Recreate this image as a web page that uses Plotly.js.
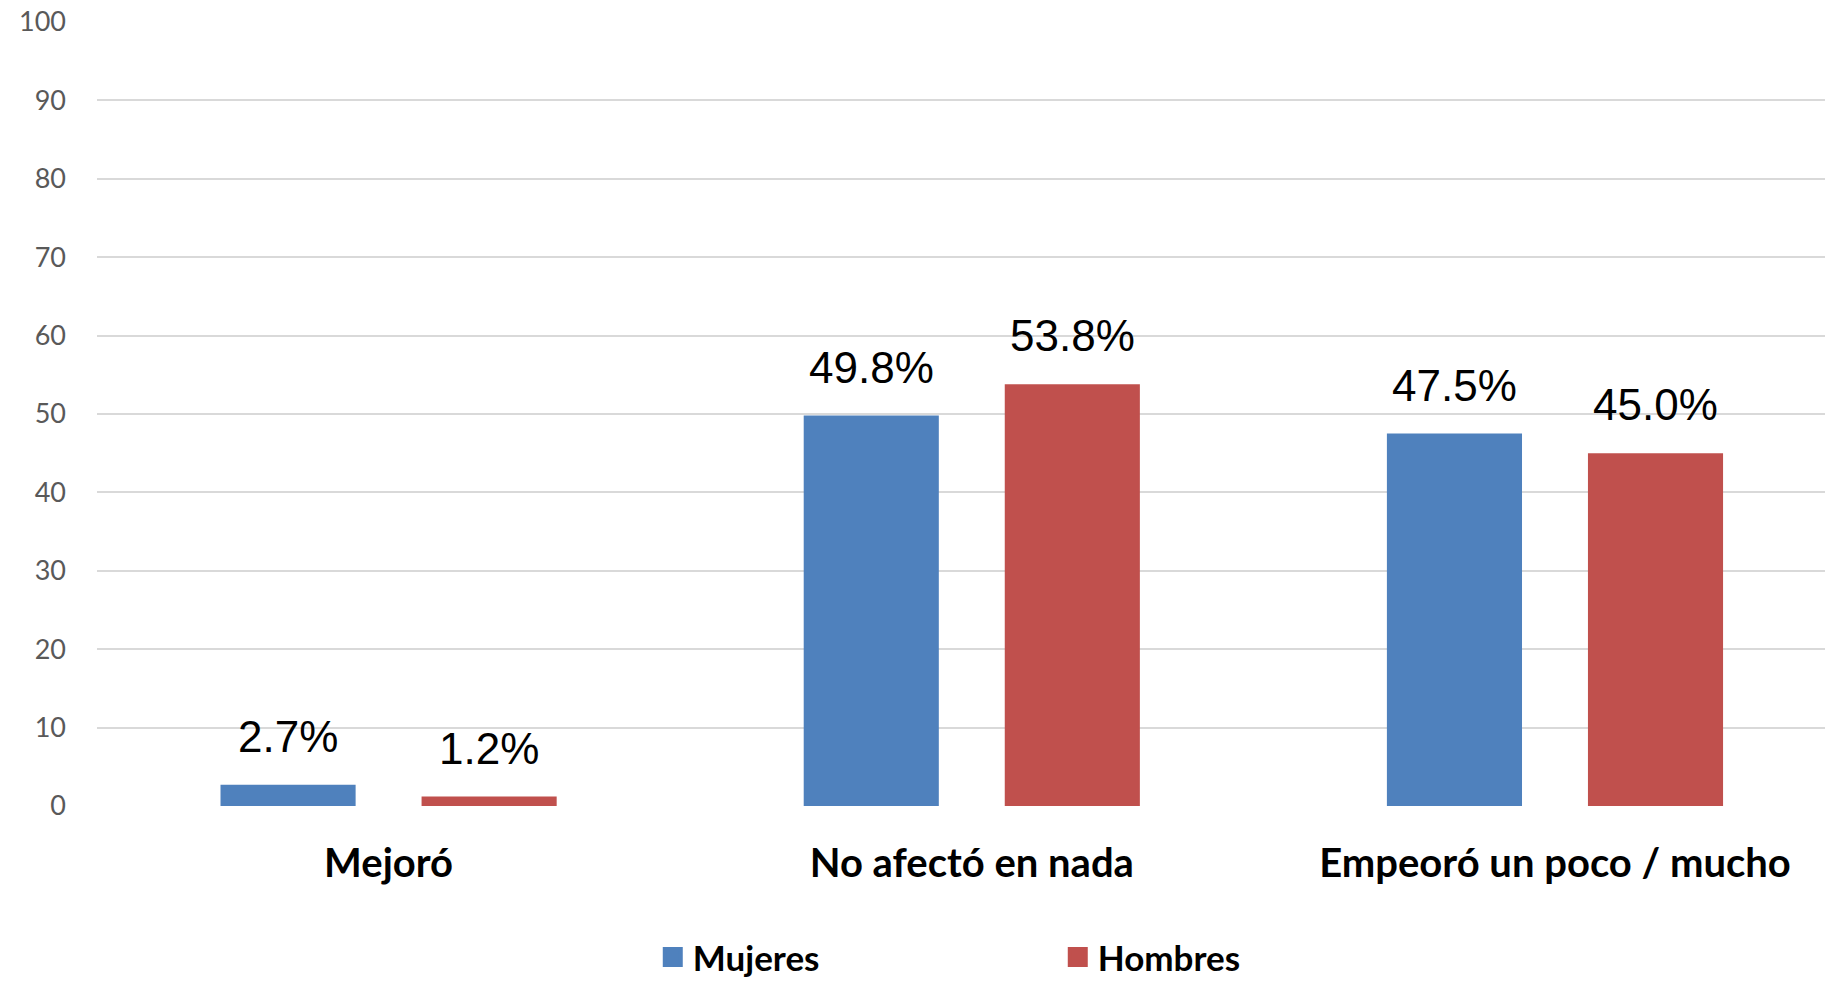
<!DOCTYPE html>
<html>
<head>
<meta charset="utf-8">
<script src="https://cdn.plot.ly/plotly-3.0.1.min.js"></script>
<style>html,body{margin:0;padding:0;background:#fff;}#chart{width:1825px;height:987px;}</style>
</head>
<body>
<div id="chart"></div>
<script>
const categories = ['Mejoró', 'No afectó en nada', 'Empeoró un poco / mucho'];
const seriesNames = ['Mujeres', 'Hombres'];
const mujeres = [2.7, 49.8, 47.5];
const hombres = [1.2, 53.8, 45.0];
const yTickVals = [0, 10, 20, 30, 40, 50, 60, 70, 80, 90, 100];
const yTickText = ['0', '10', '20', '30', '40', '50', '60', '70', '80', '90', '100'];

const colors = ['#4F81BD', '#C0504D'];
const W = 1825, H = 987;
const margin = {l: 97, r: 0, t: 22, b: 173};
const xRange = [-0.5, 2.463];
const bargap = 0.3105, bargroupgap = 0.328;

const catWidth = (W - margin.l - margin.r) / (xRange[1] - xRange[0]);
const barOffset = catWidth * (1 - bargap) / 4;

const values = [mujeres, hombres];
const traces = [];
values.forEach((v, k) => {
  traces.push({
    type: 'bar', name: seriesNames[k], x: categories, y: v,
    marker: {color: colors[k]}, showlegend: false, hoverinfo: 'skip'
  });
});
values.forEach((v, k) => {
  traces.push({
    type: 'scatter', mode: 'markers', name: seriesNames[k], x: [null], y: [null],
    marker: {color: colors[k], symbol: 'square', size: 16, line: {color: colors[k], width: 4}},
    showlegend: true
  });
});

const annotations = [];
values.forEach((v, k) => {
  v.forEach((val, i) => {
    annotations.push({
      x: categories[i], y: val, xref: 'x', yref: 'y',
      text: val.toFixed(1) + '%', showarrow: false,
      xanchor: 'center', yanchor: 'bottom',
      xshift: (k === 0 ? -1 : 1) * barOffset, yshift: 22,
      font: {family: 'Liberation Sans, Arial, sans-serif', size: 44, color: '#000'}
    });
  });
});

const layout = {
  width: W, height: H, margin: margin,
  paper_bgcolor: '#fff', plot_bgcolor: '#fff',
  barmode: 'group', bargap: bargap, bargroupgap: bargroupgap,
  showlegend: true,
  xaxis: {
    type: 'category', categoryorder: 'array', categoryarray: categories,
    range: xRange,
    showgrid: false, zeroline: false, showline: false, ticks: '',
    ticklabelstandoff: 30,
    tickfont: {family: 'Lato, sans-serif', size: 40, color: '#000', weight: 'bold'}
  },
  yaxis: {
    range: [0, 100], tickvals: yTickVals, ticktext: yTickText,
    showgrid: true, gridcolor: '#D9D9D9', gridwidth: 2,
    zeroline: false, showline: false, ticks: '',
    ticklabelstandoff: 30,
    tickfont: {family: 'Lato, sans-serif', size: 27, color: '#595959'}
  },
  legend: {
    orientation: 'h', x: 0.556, xanchor: 'center', y: -0.193, yanchor: 'middle',
    entrywidth: 360,
    font: {family: 'Lato, sans-serif', size: 35, color: '#000', weight: 'bold'}
  },
  annotations: annotations
};

Plotly.newPlot('chart', traces, layout, {displayModeBar: false, staticPlot: true});
</script>
</body>
</html>
